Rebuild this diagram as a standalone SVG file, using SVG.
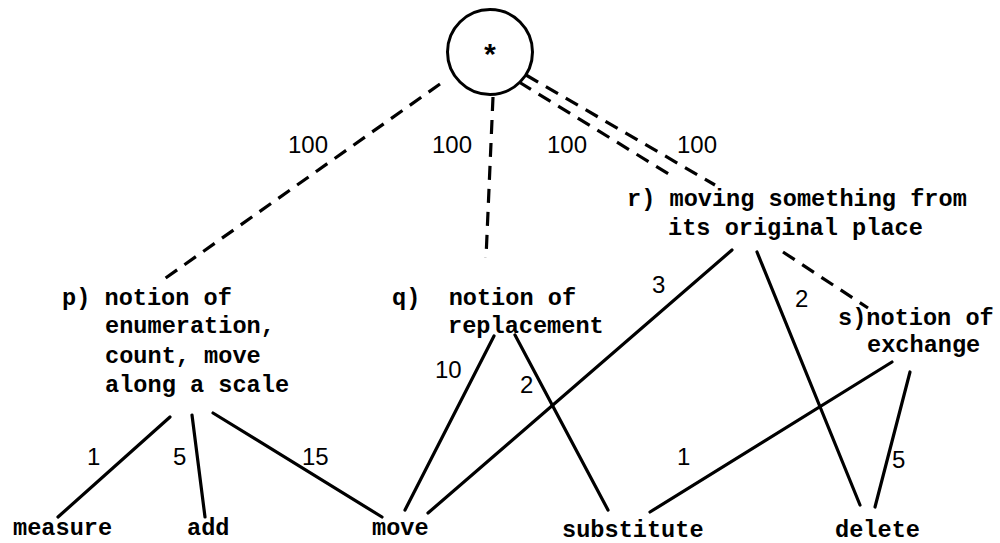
<svg xmlns="http://www.w3.org/2000/svg" width="1000" height="543" viewBox="0 0 1000 543">
<style>
.t{font-family:"Liberation Mono","Courier New",monospace;font-size:23.6px;font-weight:bold;fill:#000}
.n{font-family:"Liberation Sans",Arial,sans-serif;font-size:24px;fill:#000}
.s{stroke:#000;stroke-width:3.2;fill:none;stroke-linecap:round}
.d{stroke:#000;stroke-width:3.2;fill:none;stroke-dasharray:14 9}
</style>
<rect width="1000" height="543" fill="#fff"/>
<g id="connectors">
<line class="d" x1="440" y1="84" x2="160" y2="282"/>
<line class="d" x1="493" y1="97" x2="486" y2="258"/>
<line class="d" x1="526" y1="75" x2="715" y2="185"/>
<line class="d" x1="519" y1="82" x2="672" y2="176"/>
<line class="d" x1="783" y1="252" x2="868" y2="308"/>
<line class="s" x1="170" y1="417" x2="58" y2="517"/>
<line class="s" x1="192" y1="415" x2="205" y2="517"/>
<line class="s" x1="213" y1="413" x2="382" y2="517"/>
<line class="s" x1="494" y1="336" x2="405" y2="510"/>
<line class="s" x1="732" y1="250" x2="428" y2="513"/>
<line class="s" x1="515" y1="335" x2="608" y2="510"/>
<line class="s" x1="757" y1="252" x2="860" y2="505"/>
<line class="s" x1="892" y1="362" x2="650" y2="512"/>
<line class="s" x1="910" y1="372" x2="875" y2="507"/>
<text class="n" x="288" y="153">100</text>
<text class="n" x="432" y="153">100</text>
<text class="n" x="547" y="153">100</text>
<text class="n" x="677" y="153">100</text>
<text class="n" x="87" y="465">1</text>
<text class="n" x="173" y="465">5</text>
<text class="n" x="302" y="465">15</text>
<text class="n" x="435" y="378">10</text>
<text class="n" x="520" y="393">2</text>
<text class="n" x="652" y="293">3</text>
<text class="n" x="795" y="307">2</text>
<text class="n" x="677" y="465">1</text>
<text class="n" x="892" y="468">5</text>
</g>
<g id="root">
<circle cx="490" cy="52" r="42.5" fill="none" stroke="#000" stroke-width="3"/>
<text class="t" x="490" y="66" text-anchor="middle" style="font-size:30px">*</text>
</g>
<g id="p">
<text class="t" x="62" y="305">p) notion of</text>
<text class="t" x="105" y="333">enumeration,</text>
<text class="t" x="105" y="363">count, move</text>
<text class="t" x="105" y="392">along a scale</text>
</g>
<g id="q">
<text class="t" x="392" y="305" xml:space="preserve">q)  notion of</text>
<text class="t" x="448" y="333">replacement</text>
</g>
<g id="r">
<text class="t" x="627" y="206">r) moving something from</text>
<text class="t" x="668" y="235">its original place</text>
</g>
<g id="s">
<text class="t" x="838" y="325">s)notion of</text>
<text class="t" x="867" y="352">exchange</text>
</g>
<g id="measure"><text class="t" x="13" y="535">measure</text></g>
<g id="add"><text class="t" x="187" y="535">add</text></g>
<g id="move"><text class="t" x="372" y="535">move</text></g>
<g id="substitute"><text class="t" x="562" y="537">substitute</text></g>
<g id="delete"><text class="t" x="835" y="537">delete</text></g>
</svg>
